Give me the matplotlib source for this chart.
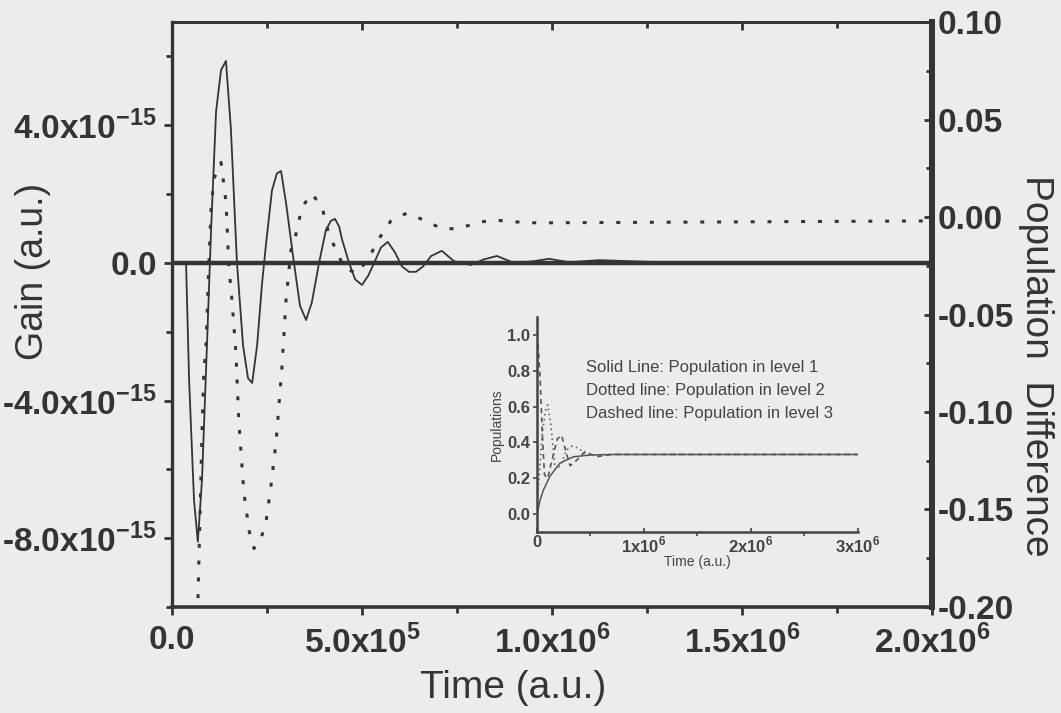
import numpy as np
import matplotlib.pyplot as plt

plt.rcParams['font.family'] = ['Liberation Sans', 'DejaVu Sans']
plt.rcParams['mathtext.fontset'] = 'custom'
plt.rcParams['mathtext.rm'] = 'Liberation Sans'
plt.rcParams['mathtext.bf'] = 'Liberation Sans:bold'

# main panel: time in units of 1e5 a.u.
gain_t = [0, 0.37, 0.45, 0.58, 0.68, 0.79, 0.92, 1.03, 1.16, 1.29, 1.42, 1.55, 1.71,
          1.87, 2.0, 2.11, 2.24, 2.37, 2.47, 2.63, 2.76, 2.87, 3.0, 3.21, 3.37, 3.53,
          3.68, 3.87, 4.05, 4.18, 4.29, 4.40, 4.47, 4.66, 4.82, 5.0, 5.16, 5.32, 5.5,
          5.68, 5.87, 6.05, 6.24, 6.42, 6.61, 6.82, 7.1, 7.42, 7.87, 8.2, 8.55, 9.0,
          9.53, 9.92, 10.45, 11.24, 12.55, 13.87, 20.0]
# gain in units of 1e-15
gain = [0, 0, -3.4, -6.9, -8.1, -6.3, -2.4, 1.0, 4.4, 5.6, 5.87, 3.9, 0,
        -2.4, -3.35, -3.49, -2.4, -0.6, 0.5, 2.1, 2.6, 2.67, 1.75, 0, -1.25, -1.66,
        -1.15, 0, 0.95, 1.22, 1.28, 1.05, 0.7, 0, -0.48, -0.64, -0.38, 0, 0.45,
        0.61, 0.3, -0.1, -0.26, -0.26, -0.1, 0.2, 0.35, 0.05, -0.06, 0.1, 0.2, 0.0,
        0.05, 0.12, 0.02, 0.08, 0.03, 0.02, 0]

popdiff_t = [0.63, 0.68, 0.79, 0.84, 0.89, 0.97, 1.03, 1.11, 1.29, 1.42, 1.5, 1.58,
             1.68, 1.76, 1.89, 2.03, 2.16, 2.34, 2.47, 2.61, 2.74, 2.89, 3.0, 3.13,
             3.26, 3.42, 3.68, 3.95, 4.13, 4.32, 4.53, 4.87, 5.18, 5.45, 5.76, 6.18,
             6.68, 7.1, 7.55, 8.0, 8.47, 8.95, 9.58, 20.0]
popdiff = [-0.204, -0.199, -0.110, -0.078, -0.069, -0.024, 0.005, 0.020, 0.028,
           0.008, -0.026, -0.043, -0.069, -0.105, -0.141, -0.161, -0.170, -0.165,
           -0.157, -0.137, -0.115, -0.078, -0.043, -0.017, -0.009, 0.005, 0.012,
           0.005, -0.009, -0.017, -0.026, -0.029, -0.021, -0.011, -0.002, 0.002,
           -0.002, -0.006, -0.006, -0.003, -0.0015, -0.0024, -0.003, -0.002]

# inset: time in units of 1e6 a.u.
p1_t = [0, 0.03, 0.06, 0.12, 0.215, 0.34, 0.5, 0.7, 3.0]
p1 = [0.0, 0.08, 0.134, 0.21, 0.285, 0.32, 0.33, 0.333, 0.333]
p2_t = [0, 0.02, 0.05, 0.08, 0.1, 0.13, 0.17, 0.22, 0.28, 0.33, 0.38, 0.45, 0.55, 0.7, 3.0]
p2 = [0.05, 0.2, 0.45, 0.58, 0.61, 0.5, 0.25, 0.27, 0.36, 0.38, 0.37, 0.34, 0.33, 0.333, 0.333]
p3_t = [0, 0.01, 0.03, 0.05, 0.07, 0.1, 0.14, 0.19, 0.23, 0.27, 0.31, 0.37, 0.45, 0.55, 0.7, 3.0]
p3 = [1.0, 0.95, 0.75, 0.45, 0.22, 0.2, 0.3, 0.42, 0.44, 0.35, 0.27, 0.3, 0.35, 0.32, 0.333, 0.333]

bg = '#ececec'
ink = '#343434'

fig = plt.figure(figsize=(10.61, 7.13), dpi=100, facecolor=bg)
ax = fig.add_axes([0.1621, 0.1487, 0.7163, 0.8204])
ax.set_facecolor(bg)

t = np.array(gain_t) * 1e5
ax.axhline(0, color=ink, lw=3.2, zorder=2)
ax.plot(t, gain, color=ink, lw=1.3, zorder=3)
ax.set_xlim(0, 2e6)
ax.set_ylim(-10, 7)

ax.set_xticks([0, 5e5, 1e6, 1.5e6, 2e6])
ax.set_xticklabels(['0.0', r'5.0x10$^{\mathbf{5}}$', r'1.0x10$^{\mathbf{6}}$',
                    r'1.5x10$^{\mathbf{6}}$', r'2.0x10$^{\mathbf{6}}$'],
                   fontweight='bold')
ax.set_xticks([2.5e5, 7.5e5, 1.25e6, 1.75e6], minor=True)
ax.set_yticks([-8, -4, 0, 4])
ax.set_yticklabels([r'-8.0x10$^{\mathbf{-15}}$', r'-4.0x10$^{\mathbf{-15}}$',
                    '0.0', r'4.0x10$^{\mathbf{-15}}$'], fontweight='bold')
ax.set_yticks([-10, -6, -2, 2, 6], minor=True)
ax.tick_params(axis='both', which='both', direction='out', colors=ink,
               labelsize=24, width=2)
ax.tick_params(which='major', length=6)
ax.tick_params(which='minor', length=4)
ax.tick_params(axis='x', pad=7)
ax.tick_params(axis='y', pad=5)

for side, w in [('left', 2.4), ('bottom', 2.6), ('top', 2.0), ('right', 4.2)]:
    ax.spines[side].set_linewidth(w)
    ax.spines[side].set_color(ink)

top = ax.secondary_xaxis('top')
top.set_xticks([0, 5e5, 1e6, 1.5e6, 2e6])
top.set_xticks([2.5e5, 7.5e5, 1.25e6, 1.75e6], minor=True)
top.tick_params(which='both', direction='in', labeltop=False, colors=ink, width=2)
top.tick_params(which='major', length=6)
top.tick_params(which='minor', length=4)
top.spines['top'].set_linewidth(2.0)
top.spines['top'].set_color(ink)

ax2 = ax.twinx()
ax2.plot(np.array(popdiff_t) * 1e5, popdiff, color=ink, lw=2.2,
         linestyle=(0, (1.3, 4.2)), zorder=3)
ax2.set_ylim(-0.2, 0.1)
ax2.set_yticks([-0.2, -0.15, -0.1, -0.05, 0.0, 0.05, 0.1])
ax2.set_yticklabels(['-0.20', '-0.15', '-0.10', '-0.05', '0.00', '0.05', '0.10'],
                    fontweight='bold')
ax2.set_yticks([-0.175, -0.125, -0.075, -0.025, 0.025, 0.075], minor=True)
ax2.tick_params(which='both', direction='in', colors=ink, labelsize=24, width=2, pad=4)
ax2.tick_params(which='major', length=6)
ax2.tick_params(which='minor', length=4)
ax2.spines['right'].set_linewidth(4.2)
ax2.spines['right'].set_color(ink)
for side in ['left', 'top', 'bottom']:
    ax2.spines[side].set_visible(False)

# axis titles, placed where the reference has them
fig.text(513 / 1061, 1 - 688 / 713, 'Time (a.u.)', fontsize=28, color=ink,
         ha='center', va='center')
fig.text(33 / 1061, 1 - 271 / 713, 'Gain (a.u.)', fontsize=27, color=ink,
         rotation=90, ha='center', va='center')
fig.text(1036 / 1061, 1 - 366 / 713, 'Population  Difference', fontsize=28,
         color=ink, rotation=270, ha='center', va='center')

# inset
ins = fig.add_axes([0.5061, 0.2538, 0.3025, 0.3015])
ins.patch.set_alpha(0)
ins.plot(p1_t, p1, color='#555555', lw=1.1)
ins.plot(p2_t, p2, color='#666666', lw=1.2, linestyle=(0, (1, 2)))
ins.plot(p3_t, p3, color='#555555', lw=1.2, linestyle=(0, (3, 2.5)))
ins.set_xlim(0, 3.0)
ins.set_ylim(-0.1, 1.1)
ins.set_xticks([0, 1, 2, 3])
ins.set_xticklabels(['0', r'1x10$^{\mathbf{6}}$', r'2x10$^{\mathbf{6}}$',
                     r'3x10$^{\mathbf{6}}$'], fontweight='bold')
ins.set_xticks([0.5, 1.5, 2.5], minor=True)
ins.set_yticks([0.0, 0.2, 0.4, 0.6, 0.8, 1.0])
ins.set_yticklabels(['0.0', '0.2', '0.4', '0.6', '0.8', '1.0'], fontweight='bold')
ins.tick_params(axis='both', which='both', colors='#444444', labelsize=12,
                width=1.2, length=3, pad=2)
ins.tick_params(axis='x', direction='in')
ins.tick_params(axis='y', direction='out')
for side in ['top', 'right']:
    ins.spines[side].set_visible(False)
for side in ['left', 'bottom']:
    ins.spines[side].set_linewidth(1.8)
    ins.spines[side].set_color('#444444')
ins.set_xlabel('Time (a.u.)', fontsize=10, color='#444444', labelpad=0)
ins.set_ylabel('Populations', fontsize=10, color='#444444', labelpad=2)

notes = ['Solid Line: Population in level 1',
         'Dotted line: Population in level 2',
         'Dashed line: Population in level 3']
for i, s in enumerate(notes):
    ins.text(0.153, 0.767 - 0.107 * i, s, transform=ins.transAxes, fontsize=12,
             color='#444444', va='center', ha='left')

fig.savefig('out.png', dpi=100, facecolor=bg)
